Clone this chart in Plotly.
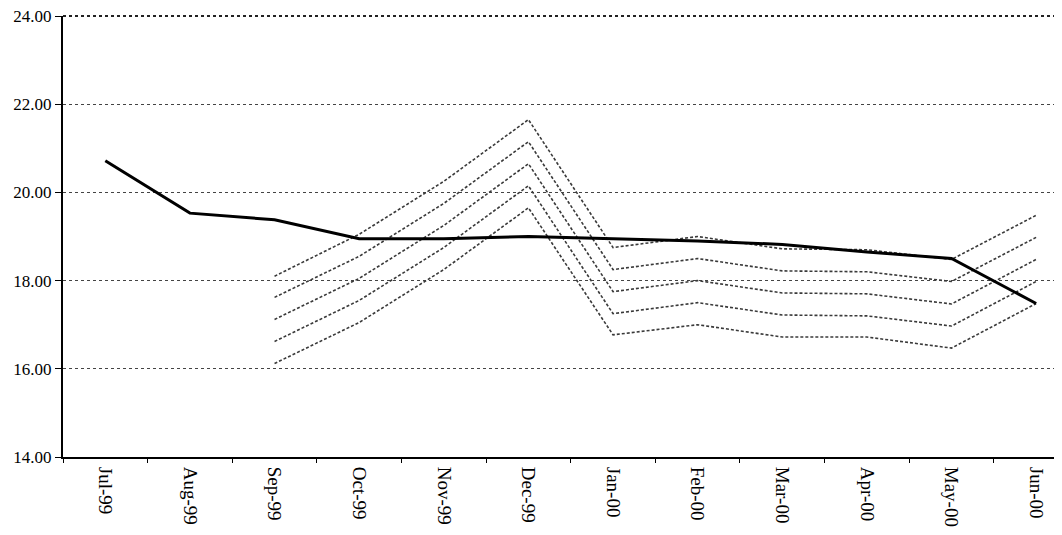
import plotly.graph_objects as go

months = ["Jul-99", "Aug-99", "Sep-99", "Oct-99", "Nov-99", "Dec-99",
          "Jan-00", "Feb-00", "Mar-00", "Apr-00", "May-00", "Jun-00"]

actual = [20.72, 19.53, 19.38, 18.95, 18.95, 19.00,
          18.95, 18.90, 18.82, 18.65, 18.50, 17.48]

# dashed band lines start at Sep-99
band_months = months[2:]
band_1 = [18.10, 19.05, 20.25, 21.65, 18.75, 19.00, 18.72, 18.70, 18.48, 19.48]
band_2 = [17.62, 18.55, 19.75, 21.15, 18.25, 18.50, 18.22, 18.20, 17.98, 18.98]
band_3 = [17.12, 18.05, 19.25, 20.65, 17.75, 18.00, 17.72, 17.70, 17.47, 18.48]
band_4 = [16.62, 17.55, 18.75, 20.15, 17.25, 17.50, 17.22, 17.20, 16.97, 17.98]
band_5 = [16.12, 17.05, 18.25, 19.65, 16.77, 17.00, 16.72, 16.72, 16.47, 17.48]

y_ticks = [14, 16, 18, 20, 22, 24]

fig = go.Figure()

for band in [band_1, band_2, band_3, band_4, band_5]:
    fig.add_trace(go.Scatter(
        x=band_months, y=band, mode="lines",
        line=dict(color="#3a3a3a", width=1.6, dash="3px,2px"),
        showlegend=False,
    ))

fig.add_trace(go.Scatter(
    x=months, y=actual, mode="lines",
    line=dict(color="black", width=3),
    showlegend=False,
))

# page body has an 8px default margin, so margins are reduced by that much
fig.update_layout(
    width=1062, height=535,
    margin=dict(l=55, r=0, t=8, b=86),
    plot_bgcolor="white", paper_bgcolor="white",
    font=dict(family="Liberation Serif", size=17, color="black"),
    xaxis=dict(
        type="category", categoryorder="array", categoryarray=months,
        range=[-0.5, 11.4],
        tickson="boundaries", ticks="outside", ticklen=4, tickcolor="black",
        tickangle=90, tickfont=dict(size=19), ticklabelstandoff=4,
        showline=True, linecolor="black", linewidth=2,
        showgrid=False, automargin=False,
    ),
    yaxis=dict(
        range=[14, 24], tickvals=y_ticks,
        ticktext=[f"{v:.2f}" for v in y_ticks],
        ticks="outside", ticklen=6, tickcolor="black",
        ticklabeloverflow="allow",
        showline=True, linecolor="black", linewidth=2,
        showgrid=True, gridcolor="#444", gridwidth=1, griddash="dot",
        zeroline=False, automargin=False,
    ),
    shapes=[dict(type="line", xref="paper", yref="paper", x0=0, x1=1, y0=1, y1=1,
                 line=dict(color="#222", width=2, dash="dot"))],
)

fig.write_html("out.html")
